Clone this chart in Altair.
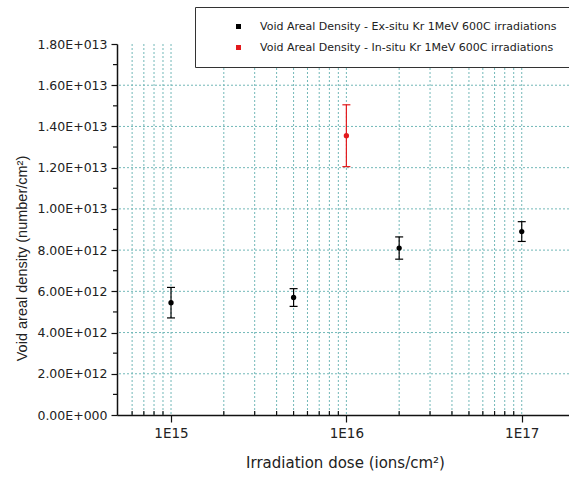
import altair as alt
import pandas as pd

# Void areal density measurements
EX = "Void Areal Density - Ex-situ Kr 1MeV 600C irradiations"
IN = "Void Areal Density - In-situ Kr 1MeV 600C irradiations"

dose = [1e15, 5e15, 1e16, 2e16, 1e17]
density = [5.45e12, 5.70e12, 1.355e13, 8.10e12, 8.90e12]
error = [0.74e12, 0.43e12, 1.50e12, 0.54e12, 0.48e12]
series = [EX, EX, IN, EX, EX]
series_names = [EX, IN]
series_colors = ["#000000", "#e3191c"]

# Grid and tick positions
x_major = [1e15, 1e16, 1e17]
x_grid = [6e14, 7e14, 8e14, 9e14,
          1e15, 2e15, 3e15, 4e15, 5e15, 6e15, 7e15, 8e15, 9e15,
          1e16, 2e16, 3e16, 4e16, 5e16, 6e16, 7e16, 8e16, 9e16,
          1e17]
x_minor = [v for v in x_grid if v not in x_major]
y_major = [0, 2e12, 4e12, 6e12, 8e12, 1e13, 1.2e13, 1.4e13, 1.6e13, 1.8e13]
y_grid = [2e12, 4e12, 6e12, 8e12, 1e13, 1.2e13, 1.4e13, 1.6e13]
y_minor = [1e12, 3e12, 5e12, 7e12, 9e12, 1.1e13, 1.3e13, 1.5e13, 1.7e13]

df = pd.DataFrame({"dose": dose, "density": density, "err": error, "series": series})
df["lo"] = df["density"] - df["err"]
df["hi"] = df["density"] + df["err"]

W, H = 452, 371
FONT = "DejaVu Sans"
VFONT = "Liberation Sans"
GRID = "#72b8b8"
TXT = "#222222"

xs = alt.Scale(type="log", domain=[4.92e14, 1.86e17])
ys = alt.Scale(domain=[0, 1.8e13])

XT = "Irradiation dose (ions/cm²)"
YT = "Void areal density (number/cm²)"

x_axis = alt.Axis(
    values=x_major, grid=False, tickSize=7, tickColor="#111", tickWidth=1.2,
    labelExpr="'1E' + round(log(datum.value) / LN10)",
    labelFontSize=13.5, labelFont=FONT, labelColor=TXT, labelPadding=4,
    domainColor="#111", domainWidth=1.5,
    titleFontSize=15, titleFont=FONT, titleFontWeight="normal", titleColor=TXT,
    titleX=228, titleY=47, titleBaseline="middle",
)
y_axis = alt.Axis(
    values=y_major, grid=False, tickSize=6, tickColor="#111", tickWidth=1.2,
    labelExpr=("datum.value == 0 ? '0.00E+000' : "
               "format(datum.value / pow(10, floor(log(datum.value) / LN10 + 1e-9)), '.2f')"
               " + 'E+0' + floor(log(datum.value) / LN10 + 1e-9)"),
    labelFontSize=12.5, labelFont=FONT, labelColor=TXT, labelPadding=4,
    domainColor="#111", domainWidth=1.5,
    titleFontSize=14.5, titleFont=VFONT, titleFontWeight="normal", titleColor=TXT,
    titleX=-95, titleY=214, titleBaseline="middle",
)

X = lambda f: alt.X(f, scale=xs, axis=x_axis, title=XT)
Y = lambda f: alt.Y(f, scale=ys, axis=y_axis, title=YT)

vgrid = alt.Chart(pd.DataFrame({"g": x_grid})).mark_rule(
    color=GRID, strokeDash=[2, 2], strokeWidth=1
).encode(x=X("g:Q"))

hgrid = alt.Chart(pd.DataFrame({"g": y_grid})).mark_rule(
    color=GRID, strokeDash=[2, 2], strokeWidth=1
).encode(y=Y("g:Q"))

xminor = alt.Chart(pd.DataFrame({"g": x_minor})).mark_rule(
    color="#111", strokeWidth=1.2
).encode(x=X("g:Q"), y=alt.value(H - 4), y2=alt.value(H))

yminor = alt.Chart(pd.DataFrame({"g": y_minor})).mark_rule(
    color="#111", strokeWidth=1.2
).encode(y=Y("g:Q"), x=alt.value(-4), x2=alt.value(0))

# error bars with caps, one group per series
err_layers = []
for name, col in zip(series_names, series_colors):
    sub = alt.Chart(df).transform_filter(alt.datum.series == name)
    err_layers.append(sub.mark_rule(color=col, strokeWidth=1.2).encode(
        x=X("dose:Q"), y=Y("lo:Q"), y2="hi:Q"))
    for end in ("lo", "hi"):
        err_layers.append(sub.mark_rule(color=col, strokeWidth=1.2, xOffset=-4, x2Offset=4).encode(
            x=X("dose:Q"), x2="dose:Q", y=Y(f"{end}:Q")))

points = alt.Chart(df).mark_point(filled=True, shape="circle", size=28, opacity=1).encode(
    x=X("dose:Q"),
    y=Y("density:Q"),
    color=alt.Color(
        "series:N", scale=alt.Scale(domain=series_names, range=series_colors),
        legend=alt.Legend(
            title=None, orient="none", legendX=78, legendY=-37,
            strokeColor="#333", fillColor="white", padding=14,
            symbolType="square", symbolSize=25, rowPadding=9,
            symbolOffset=24, labelOffset=16,
            labelFont=FONT, labelFontSize=11, labelColor=TXT, labelLimit=600,
        ),
    ),
)

chart = alt.layer(vgrid, hgrid, xminor, yminor, *err_layers, points).properties(
    width=W, height=H,
    padding={"left": 117, "top": 44, "right": 0, "bottom": 60},
    autosize=alt.AutoSizeParams(type="none"),
    background="white",
).configure_view(stroke=None)

chart.save("out.html", embed_options={"renderer": "svg", "actions": False})
